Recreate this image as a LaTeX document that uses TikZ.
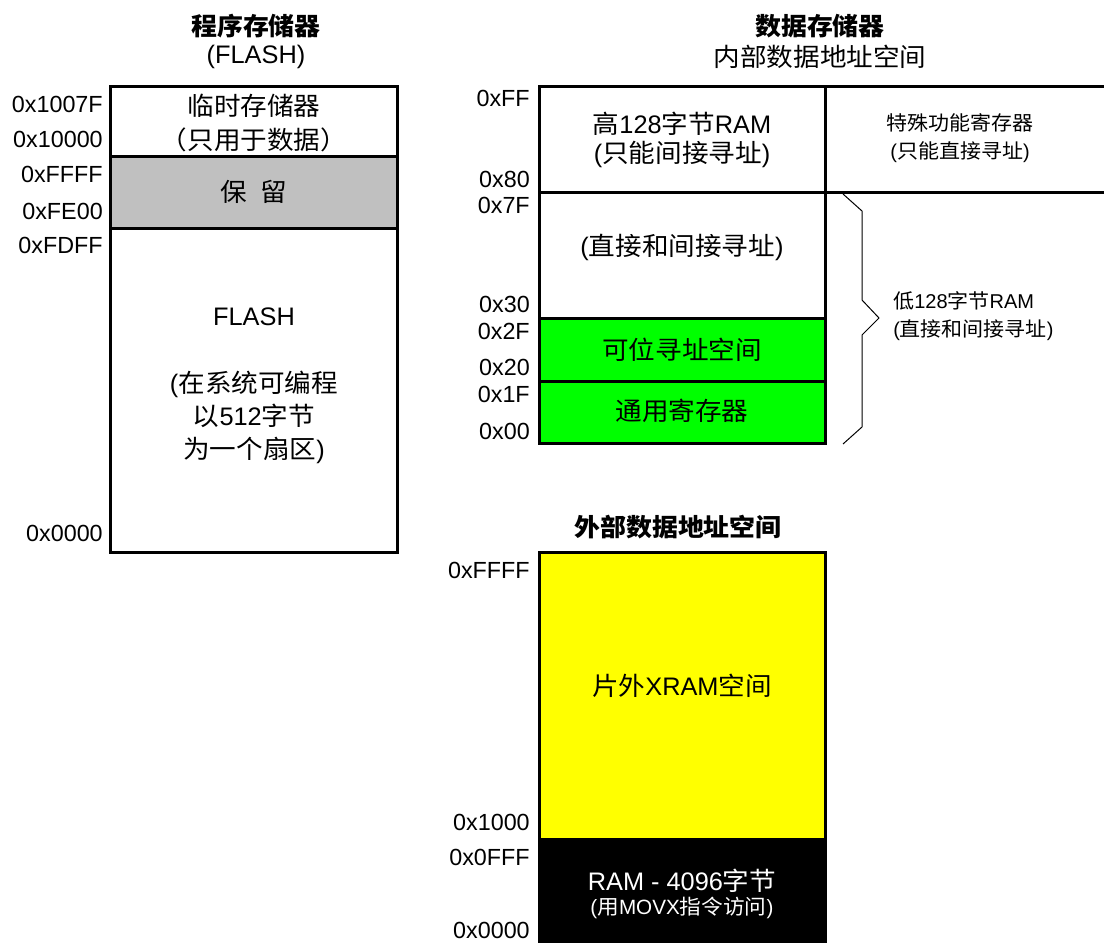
\documentclass[tikz,border=0pt]{standalone}
\usepackage{fontspec}
\setmainfont{Liberation Sans}
\newfontfamily\cjk{Noto Sans CJK SC}[FakeStretch=1.05]
\newcommand{\zh}[1]{{\cjk #1}}
\definecolor{rsvgray}{RGB}{192,192,192}
\definecolor{bitgreen}{RGB}{0,255,0}
\definecolor{xramyellow}{RGB}{255,255,0}
\tikzset{
    memline/.style={line width=2.25pt},
    addr/.style={anchor=east, inner sep=0pt, font=\fontsize{17.5}{20}\selectfont},
    celltext/.style={align=center, inner sep=0pt, font=\fontsize{19}{25}\selectfont},
    smalltext/.style={align=center, inner sep=0pt, font=\fontsize{15}{21}\selectfont},
    heading/.style={inner sep=0pt, font=\fontsize{18.5}{22}\selectfont\bfseries},
}
\begin{document}
\begin{tikzpicture}[x=0.75pt, y=-0.75pt]
    \useasboundingbox (0,0) rectangle (1104,943);

    % Program memory (FLASH)
    \node[heading] (progtitle) at (256,26) {\zh{程序存储器}};
    \node[celltext] (progsub) at (256,57) {(FLASH)};
    \fill[rsvgray] (110,156) rectangle (397,228);
    \draw[memline] (110,86) rectangle (397,552);
    \draw[memline] (110,156) -- (397,156);
    \draw[memline] (110,228) -- (397,228);
    \node[celltext, font=\fontsize{19}{25.5}\selectfont] (scratch) at (254,123) {\zh{临时存储器}\\\zh{（只用于数据）}};
    \node[celltext] (reserved) at (254,192) {\zh{保}\hspace{0.55em}\zh{留}};
    \node[celltext] (flash) at (254,317) {FLASH};
    \node[celltext, font=\fontsize{19}{24.75}\selectfont] (flashnote) at (254,417)
        {(\zh{在系统可编程}\\\zh{以}512\zh{字节}\\\zh{为一个扇区})};
    \foreach \y/\t in {104/0x1007F, 139/0x10000, 174/0xFFFF, 211/0xFE00, 245/0xFDFF, 533/0x0000}
        \node[addr] (pa\y) at (103,\y) {\t};

    % Internal data memory
    \node[heading] (datatitle) at (820,26) {\zh{数据存储器}};
    \node[celltext] (datasub) at (820,57) {\zh{内部数据地址空间}};
    \fill[bitgreen] (539,318) rectangle (825,443);
    \draw[memline] (539,86) rectangle (825,443);
    \draw[memline] (825,86) -- (1110,86);
    \draw[memline] (539,192) -- (1110,192);
    \draw[memline] (539,318) -- (825,318);
    \draw[memline] (539,381) -- (825,381);
    \node[celltext, font=\fontsize{19}{21.75}\selectfont] (upperram) at (682,140)
        {\zh{高}128\zh{字节}RAM\\(\zh{只能间接寻址})};
    \node[smalltext] (sfr) at (960,138) {\zh{特殊功能寄存器}\\(\zh{只能直接寻址})};
    \node[celltext] (direct) at (682,247) {(\zh{直接和间接寻址})};
    \node[celltext] (bitaddr) at (682,350) {\zh{可位寻址空间}};
    \node[celltext] (genreg) at (682,411) {\zh{通用寄存器}};
    \foreach \y/\t in {98/0xFF, 179/0x80, 205/0x7F, 304/0x30, 331/0x2F, 367/0x20, 394/0x1F, 431/0x00}
        \node[addr] (da\y) at (530,\y) {\t};

    % Brace for the lower 128 bytes
    \draw[line width=0.75pt] (843,194) -- (862,211) -- (862,300) -- (879,318)
        -- (862,335) -- (862,427) -- (843,444);
    \node[smalltext, anchor=west, align=left] (lowerram) at (893,316)
        {\zh{低}128\zh{字节}RAM\\(\zh{直接和间接寻址})};

    % External data memory
    \node[heading] (xtitle) at (678,527) {\zh{外部数据地址空间}};
    \fill[xramyellow] (539,552) rectangle (825,838);
    \fill[black] (539,838) rectangle (825,950);
    \draw[memline] (539,950) -- (539,552) -- (825,552) -- (825,950);
    \node[celltext] (xram) at (682,686) {\zh{片外}XRAM\zh{空间}};
    \node[celltext, text=white] (onchip) at (682,881) {RAM - 4096\zh{字节}};
    \node[celltext, text=white, font=\fontsize{15.5}{18}\selectfont] (movx) at (682,908)
        {(\zh{用}MOVX\zh{指令访问})};
    \foreach \y/\t in {570/0xFFFF, 822/0x1000, 857/0x0FFF, 930/0x0000}
        \node[addr] (xa\y) at (530,\y) {\t};
\end{tikzpicture}
\end{document}
